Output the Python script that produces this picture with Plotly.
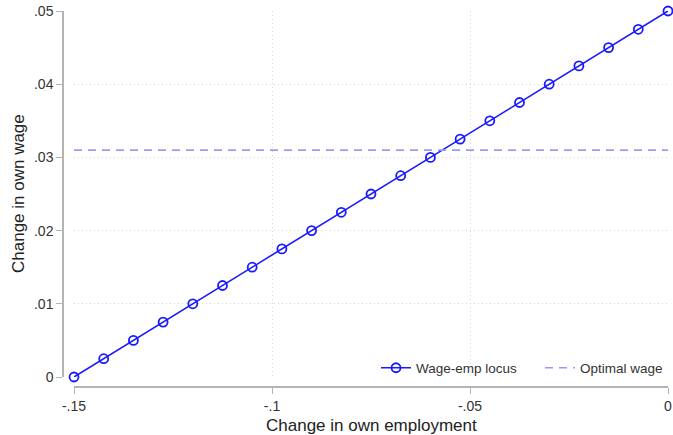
import plotly.graph_objects as go

# Wage-employment locus
emp_change = [-0.15, -0.1425, -0.135, -0.1275, -0.12, -0.1125, -0.105, -0.0975,
              -0.09, -0.0825, -0.075, -0.0675, -0.06, -0.0525, -0.045, -0.0375,
              -0.03, -0.0225, -0.015, -0.0075, 0.0]
wage_change = [0.0, 0.0025, 0.005, 0.0075, 0.01, 0.0125, 0.015, 0.0175,
               0.02, 0.0225, 0.025, 0.0275, 0.03, 0.0325, 0.035, 0.0375,
               0.04, 0.0425, 0.045, 0.0475, 0.05]
optimal_wage = 0.031

x_ticks = [-0.15, -0.1, -0.05, 0.0]
x_tick_labels = ["-.15", "-.1", "-.05", "0"]
y_ticks = [0.0, 0.01, 0.02, 0.03, 0.04, 0.05]
y_tick_labels = ["0", ".01", ".02", ".03", ".04", ".05"]

W, H = 673, 435
FONT = "Liberation Sans, Arial, sans-serif"
AXIS_GRAY = "#b4b4b4"
GRID_GRAY = "#d6d6d6"
LOCUS_BLUE = "#1a1aff"
OPT_BLUE = "#9a9af2"

fig = go.Figure()
fig.add_trace(go.Scatter(
    x=emp_change, y=wage_change, mode="lines+markers", name="Wage-emp locus",
    line=dict(color=LOCUS_BLUE, width=1.6),
    marker=dict(symbol="circle-open", size=9, color=LOCUS_BLUE, line=dict(width=1.8)),
    cliponaxis=False, legend="legend",
))
fig.add_trace(go.Scatter(
    x=[emp_change[0], emp_change[-1]], y=[optimal_wage, optimal_wage],
    mode="lines", name="Optimal wage",
    line=dict(color=OPT_BLUE, width=1.6, dash="8px,6px"),
    cliponaxis=False, legend="legend2",
))

x0, x1 = 74 / W, 668 / W
y0, y1 = 1 - 377 / H, 1 - 11 / H

legend_style = dict(
    orientation="h", xanchor="left", yanchor="middle", y=1 - 368 / H,
    font=dict(size=13.5, color="#333333"), bgcolor="rgba(255,255,255,0)",
)

fig.update_layout(
    width=W, height=H,
    margin=dict(l=0, r=0, t=0, b=0, autoexpand=False),
    paper_bgcolor="white", plot_bgcolor="white",
    font=dict(family=FONT, color="#333333"),
    showlegend=True,
    legend=dict(x=376 / W, **legend_style),
    legend2=dict(x=540 / W, **legend_style),
    xaxis=dict(
        domain=[x0, x1], range=[-0.15, 0.0], anchor="free", position=1 - 387 / H,
        automargin=False,
        tickvals=x_ticks, ticktext=x_tick_labels, ticks="outside", ticklen=6,
        tickcolor=AXIS_GRAY, tickwidth=1.2,
        showline=True, linecolor=AXIS_GRAY, linewidth=1.5,
        showgrid=True, gridcolor=GRID_GRAY, griddash="1px,3px", gridwidth=1,
        zeroline=False, tickfont=dict(size=14, color="#333333"),
    ),
    yaxis=dict(
        domain=[y0, y1], range=[0.0, 0.05], anchor="free", position=63 / W,
        automargin=False,
        tickvals=y_ticks, ticktext=y_tick_labels, ticks="outside", ticklen=6,
        tickcolor=AXIS_GRAY, tickwidth=1.2,
        showline=True, linecolor=AXIS_GRAY, linewidth=1.5,
        showgrid=True, gridcolor=GRID_GRAY, griddash="1px,3px", gridwidth=1,
        zeroline=False, tickfont=dict(size=14, color="#333333"),
        tickangle=0,
    ),
    annotations=[
        dict(text="Change in own employment", x=(x0 + x1) / 2, y=1 - 425 / H,
             xref="paper", yref="paper", showarrow=False,
             xanchor="center", yanchor="middle",
             font=dict(size=17, color="#222222")),
        dict(text="Change in own wage", x=18 / W, y=(y0 + y1) / 2,
             xref="paper", yref="paper", showarrow=False, textangle=-90,
             xanchor="center", yanchor="middle",
             font=dict(size=17, color="#222222")),
    ],
)

fig.write_html("out.html")
